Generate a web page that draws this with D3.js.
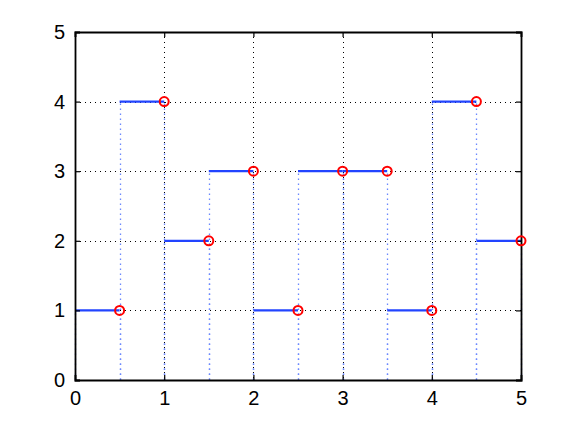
<!DOCTYPE html>
<html>
<head>
<meta charset="utf-8">
<script src="https://cdn.jsdelivr.net/npm/d3@7"></script>
<style>
  body { margin: 0; background: #fff; }
  svg text { font-family: "Liberation Sans", Arial, sans-serif; }
</style>
</head>
<body>
<svg id="chart"></svg>
<script>
// step segments: start, end, level
const starts = [0, 0.5, 1, 1.5, 2, 2.5, 3, 3.5, 4, 4.5];
const ends   = [0.5, 1, 1.5, 2, 2.5, 3, 3.5, 4, 4.5, 5];
const levels = [1, 4, 2, 3, 1, 3, 3, 1, 4, 2];
const xTicks = [0, 1, 2, 3, 4, 5];
const yTicks = [0, 1, 2, 3, 4, 5];

const segs = starts.map((s, i) => ({ s, e: ends[i], v: levels[i] }));

const W = 575, H = 427;
const margin = { top: 32, right: 54, bottom: 47, left: 75 };
const width = W - margin.left - margin.right;
const height = H - margin.top - margin.bottom;

const svg = d3.select("#chart")
  .attr("width", W)
  .attr("height", H)
  .append("g")
  .attr("transform", `translate(${margin.left},${margin.top})`);

const x = d3.scaleLinear().domain([0, 5]).range([0, width]);
const y = d3.scaleLinear().domain([0, 5]).range([height, 0]);

// grid (black dotted)
svg.append("g").selectAll("line")
  .data(xTicks.slice(1, -1))
  .join("line")
  .attr("x1", d => Math.round(x(d)) + 0.5).attr("x2", d => Math.round(x(d)) + 0.5)
  .attr("y1", 0).attr("y2", height)
  .attr("stroke", "#000").attr("stroke-width", 1)
  .attr("stroke-dasharray", "1,4");

svg.append("g").selectAll("line")
  .data(yTicks.slice(1, -1))
  .join("line")
  .attr("y1", d => Math.round(y(d)) + 0.5).attr("y2", d => Math.round(y(d)) + 0.5)
  .attr("x1", 0).attr("x2", width)
  .attr("stroke", "#000").attr("stroke-width", 1)
  .attr("stroke-dasharray", "1,4");

// blue dotted verticals at both ends of each segment
const verts = segs.flatMap(d => [{ x: d.s, v: d.v }, { x: d.e, v: d.v }]);
svg.append("g").selectAll("line")
  .data(verts)
  .join("line")
  .attr("x1", d => Math.round(x(d.x)) + 0.5).attr("x2", d => Math.round(x(d.x)) + 0.5)
  .attr("y1", y(0)).attr("y2", d => y(d.v))
  .attr("stroke", "#6a88ff").attr("stroke-width", 1.3)
  .attr("stroke-dasharray", "1.5,3.5");

// step segments
svg.append("g").selectAll("line")
  .data(segs)
  .join("line")
  .attr("x1", d => x(d.s)).attr("x2", d => x(d.e))
  .attr("y1", d => y(d.v)).attr("y2", d => y(d.v))
  .attr("stroke", "#2244ff").attr("stroke-width", 2.2);

// axes box
const xAxis = d3.axisBottom(x).tickValues(xTicks).tickSize(-5).tickPadding(11).tickFormat(d3.format("d"));
const yAxis = d3.axisLeft(y).tickValues(yTicks).tickSize(-5).tickPadding(10).tickFormat(d3.format("d"));
const xTop = d3.axisTop(x).tickValues(xTicks).tickSize(-5).tickFormat("");
const yRight = d3.axisRight(y).tickValues(yTicks).tickSize(-5).tickFormat("");

svg.append("g").attr("transform", `translate(0,${height})`).call(xAxis);
svg.append("g").call(yAxis);
svg.append("g").call(xTop);
svg.append("g").attr("transform", `translate(${width},0)`).call(yRight);

svg.selectAll(".domain").attr("stroke", "#000").attr("stroke-width", 1.8);
svg.selectAll(".tick line").attr("stroke", "#000").attr("stroke-width", 1.2);
svg.selectAll(".tick text").attr("font-size", 20).attr("fill", "#000");

// red circles at segment ends
svg.append("g").selectAll("circle")
  .data(segs)
  .join("circle")
  .attr("cx", d => x(d.e))
  .attr("cy", d => y(d.v))
  .attr("r", 4.5)
  .attr("fill", "none")
  .attr("stroke", "#ff0000")
  .attr("stroke-width", 2);
</script>
</body>
</html>
